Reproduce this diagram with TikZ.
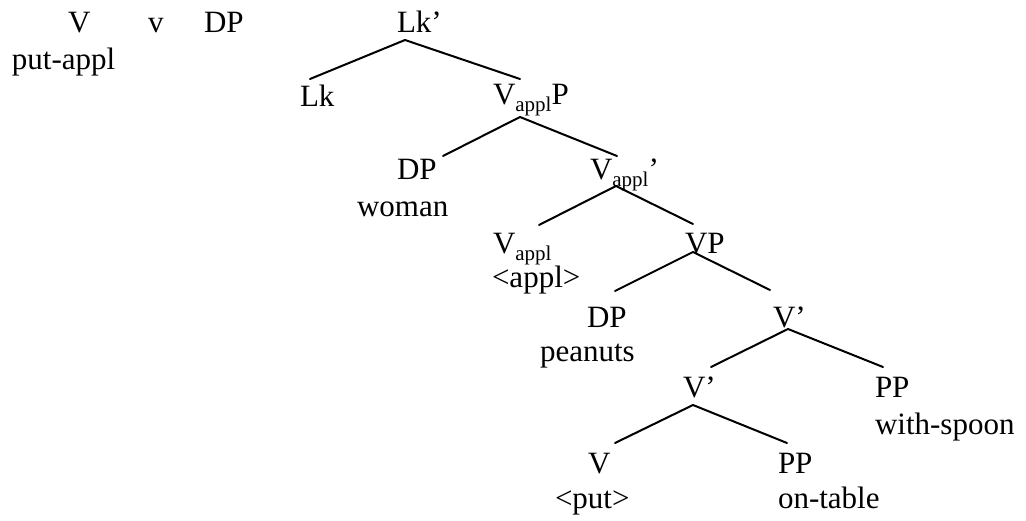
\documentclass[tikz,border=0pt]{standalone}
\usepackage{fontspec}
\setmainfont{Liberation Serif}
\newcommand\lsub[1]{\raisebox{-7pt}{\fontsize{21}{21}\selectfont #1}}
\tikzset{
  lbl/.style={anchor=base west, inner sep=0pt, outer sep=0pt, font=\fontsize{31}{37}\selectfont},
  branch/.style={line width=2pt, line cap=round}
}
\begin{document}
\begin{tikzpicture}[x=1pt, y=-1pt]
\useasboundingbox (0,0) rectangle (1026,521);
% top-left material
\node[lbl] (V0) at (68,33) {V};
\node[lbl] (v0) at (148,33) {v};
\node[lbl] (DP0) at (204,33) {DP};
\node[lbl] (putappl) at (12,70) {put-appl};
% tree labels
\node[lbl] (Lkbar) at (397,33) {Lk’};
\node[lbl] (Lk) at (300,107) {Lk};
\node[lbl] (VapplP) at (493,105) {V\lsub{appl}P};
\node[lbl] (DPw) at (397,180) {DP};
\node[lbl] (woman) at (357,217) {woman};
\node[lbl] (Vapplbar) at (590,180) {V\lsub{appl}’};
\node[lbl] (Vappl) at (493,254) {V\lsub{appl}};
\node[lbl] (appl) at (492,288) {<appl>};
\node[lbl] (VP) at (685,254) {VP};
\node[lbl] (DPp) at (587,328) {DP};
\node[lbl] (peanuts) at (540,362) {peanuts};
\node[lbl] (Vbar1) at (773,328) {V’};
\node[lbl] (Vbar2) at (683,398) {V’};
\node[lbl] (PPs) at (875,398) {PP};
\node[lbl] (spoon) at (875,435) {with-spoon};
\node[lbl] (Vput) at (588,473) {V};
\node[lbl] (put) at (555,508) {<put>};
\node[lbl] (PPt) at (778,473) {PP};
\node[lbl] (table) at (778,508) {on-table};
% branch points
\coordinate (a1) at (405,40);  \coordinate (l1) at (310,79);  \coordinate (r1) at (520,79);
\coordinate (a2) at (520,117); \coordinate (l2) at (443,156); \coordinate (r2) at (617,156);
\coordinate (a3) at (616,186); \coordinate (l3) at (539,225); \coordinate (r3) at (693,224);
\coordinate (a4) at (693,252); \coordinate (l4) at (615,291); \coordinate (r4) at (770,290);
\coordinate (a5) at (788,329); \coordinate (l5) at (711,367); \coordinate (r5) at (883,367);
\coordinate (a6) at (693,405); \coordinate (l6) at (615,443); \coordinate (r6) at (787,443);
\draw[branch] (l1) -- (a1) -- (r1);
\draw[branch] (l2) -- (a2) -- (r2);
\draw[branch] (l3) -- (a3) -- (r3);
\draw[branch] (l4) -- (a4) -- (r4);
\draw[branch] (l5) -- (a5) -- (r5);
\draw[branch] (l6) -- (a6) -- (r6);
\end{tikzpicture}
\end{document}
